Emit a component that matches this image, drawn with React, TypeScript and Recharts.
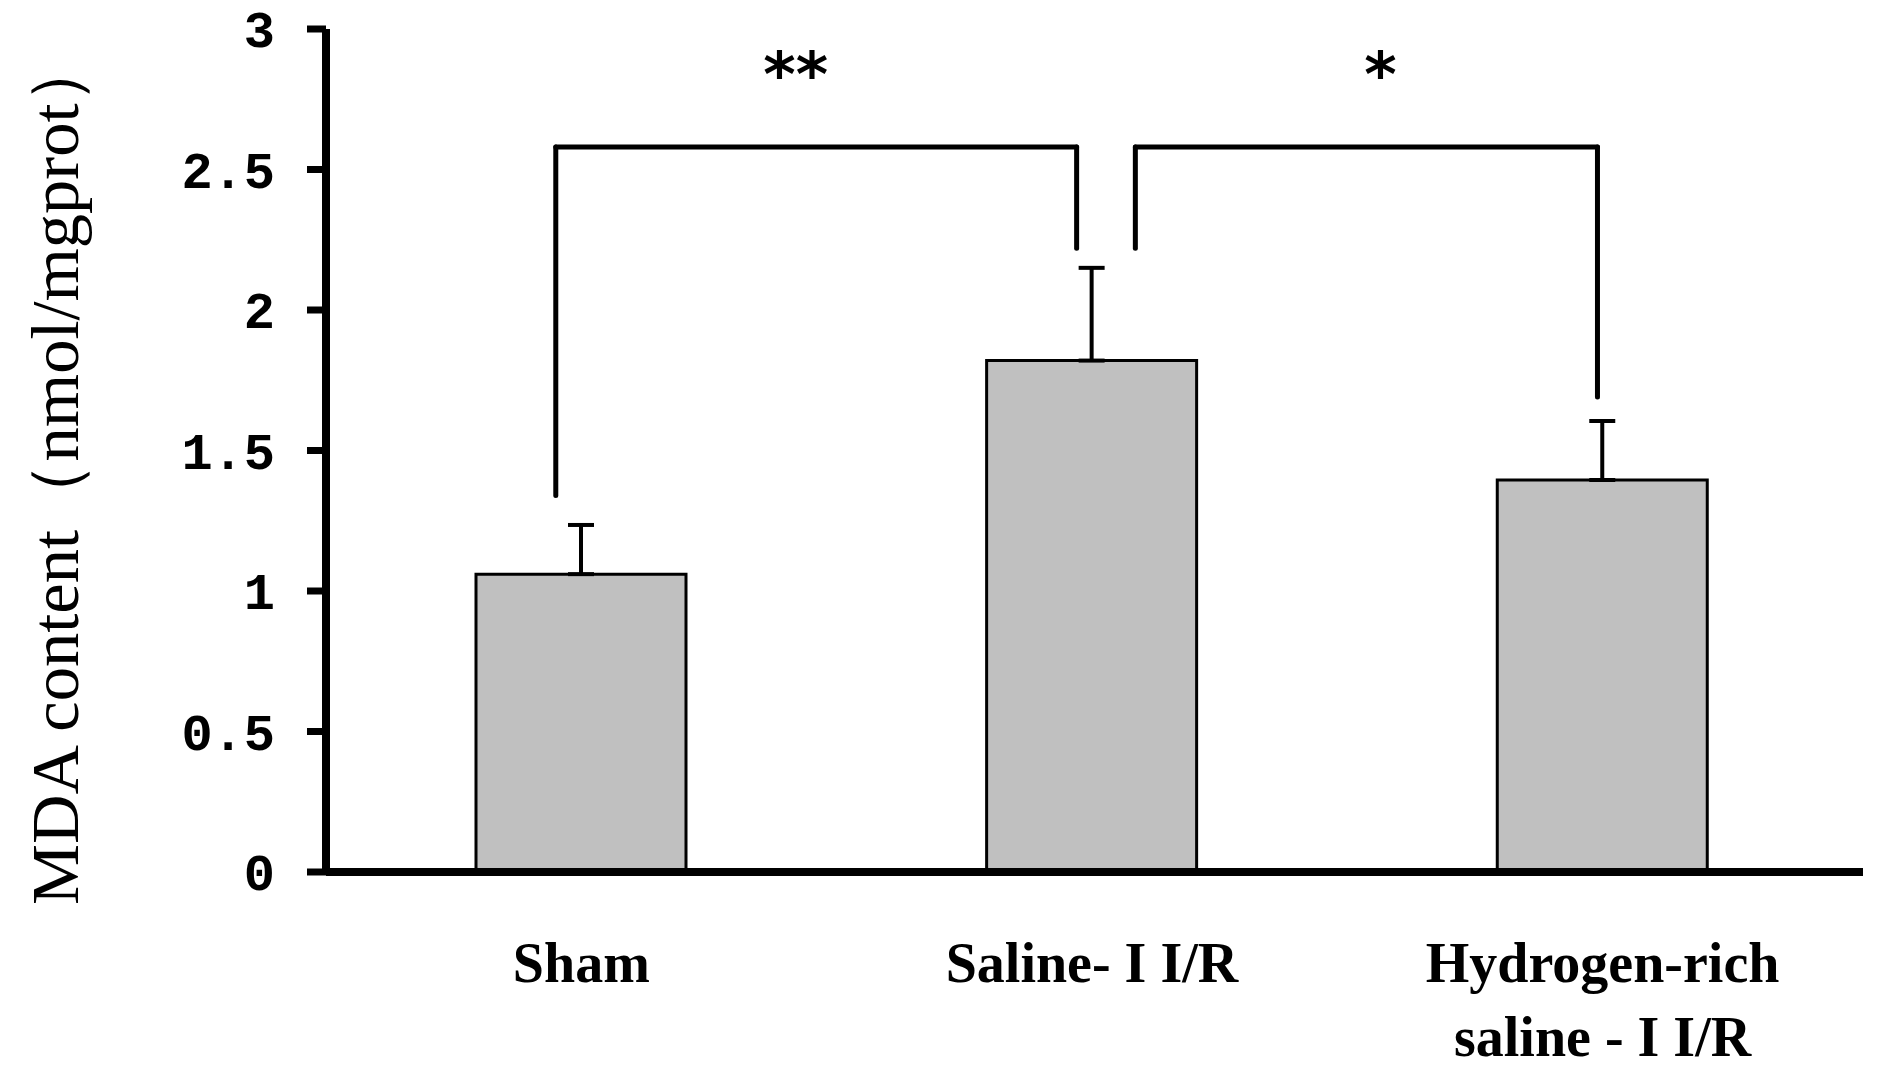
import {
  BarChart, Bar, XAxis, YAxis, ErrorBar, ReferenceLine, ReferenceDot,
} from "recharts";

// MDA content per group
const categories = ["Sham", "Saline- I I/R", "Hydrogen-rich\nsaline - I I/R"];
const mdaMean = [1.06, 1.82, 1.395];
const mdaSem = [0.175, 0.33, 0.21];
const yTicks = [0, 0.5, 1, 1.5, 2, 2.5, 3];

// significance brackets, in data units (x = group index, y = MDA)
const bracketFromX = [-0.05, 1.085];
const bracketToX = [0.97, 1.99];
const bracketFromFoot = [1.34, 2.22];
const bracketToFoot = [2.22, 1.69];
const bracketTop = 2.58;
const starText = ["**", "*"];
const starX = [0.42, 1.565];
const starY = 2.84;

const data = categories.map((name, i) => ({
  x: i,
  name,
  mean: mdaMean[i],
  err: [0, mdaSem[i]],
}));

const INK = "#000";
const BRACKET_W = 5;

const CatTick = ({ x, y, payload }: any) => {
  const lines = categories[payload.value].split("\n");
  return (
    <g>
      {lines.map((t, i) => (
        <text
          key={i}
          x={x}
          y={y + 110 + i * 74}
          textAnchor="middle"
          fontFamily="Liberation Serif"
          fontWeight="bold"
          fontSize={56}
          fill={INK}
        >
          {t}
        </text>
      ))}
    </g>
  );
};

const YTitle = ({ viewBox }: any) => {
  const cx = viewBox.x + 78;
  const cy = 470;
  return (
    <text
      x={cx}
      y={cy}
      transform={`rotate(-90, ${cx}, ${cy})`}
      textAnchor="middle"
      fontFamily="Liberation Serif"
      fontSize={68}
      textLength={870}
      lengthAdjust="spacingAndGlyphs"
      fill={INK}
    >
      MDA content（nmol/mgprot）
    </text>
  );
};

export default function App() {
  return (
    <div style={{ position: "absolute", left: 0, top: 0, width: 1881, height: 1069, background: "#fff" }}>
      <BarChart
        width={1881}
        height={1069}
        data={data}
        margin={{ top: 29, right: 18, bottom: 0, left: 0 }}
      >
        <XAxis
          type="number"
          dataKey="x"
          domain={[-0.5, 2.51]}
          ticks={[0, 1, 2]}
          interval={0}
          height={197}
          axisLine={{ stroke: INK, strokeWidth: 8 }}
          tickLine={false}
          tickSize={0}
          tickMargin={0}
          tick={<CatTick />}
        />
        <YAxis
          type="number"
          domain={[0, 3]}
          ticks={yTicks}
          interval={0}
          width={326}
          axisLine={{ stroke: INK, strokeWidth: 8 }}
          tickLine={{ stroke: INK, strokeWidth: 7 }}
          tickSize={19}
          tickMargin={32}
          tick={{ fontFamily: "Liberation Mono", fontWeight: "bold", fontSize: 52, fill: INK }}
          label={<YTitle />}
        />
        <Bar
          dataKey="mean"
          barSize={210}
          fill="#c0c0c0"
          stroke={INK}
          strokeWidth={3}
          isAnimationActive={false}
        >
          <ErrorBar dataKey="err" direction="y" width={13} stroke={INK} strokeWidth={4} />
        </Bar>
        {bracketFromX.map((x0, i) => (
          <ReferenceLine
            key={`a${i}`}
            segment={[{ x: x0, y: bracketFromFoot[i] }, { x: x0, y: bracketTop }]}
            stroke={INK}
            strokeWidth={BRACKET_W}
            strokeLinecap="round"
            ifOverflow="visible"
          />
        ))}
        {bracketFromX.map((x0, i) => (
          <ReferenceLine
            key={`b${i}`}
            segment={[{ x: x0, y: bracketTop }, { x: bracketToX[i], y: bracketTop }]}
            stroke={INK}
            strokeWidth={BRACKET_W}
            strokeLinecap="round"
            ifOverflow="visible"
          />
        ))}
        {bracketToX.map((x1, i) => (
          <ReferenceLine
            key={`c${i}`}
            segment={[{ x: x1, y: bracketTop }, { x: x1, y: bracketToFoot[i] }]}
            stroke={INK}
            strokeWidth={BRACKET_W}
            strokeLinecap="round"
            ifOverflow="visible"
          />
        ))}
        {starText.map((s, i) => (
          <ReferenceDot
            key={`s${i}`}
            x={starX[i]}
            y={starY}
            r={0}
            fill="none"
            stroke="none"
            ifOverflow="visible"
            label={{
              value: s,
              position: "center",
              fontFamily: "DejaVu Sans",
              fontWeight: "bold",
              fontSize: 62,
              fill: INK,
            }}
          />
        ))}
      </BarChart>
    </div>
  );
}
